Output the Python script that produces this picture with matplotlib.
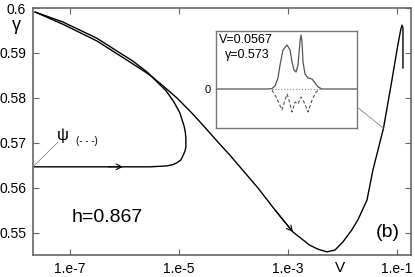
import matplotlib
matplotlib.use("Agg")
import matplotlib.pyplot as plt
from matplotlib.ticker import NullLocator
from matplotlib.patches import ConnectionPatch

plt.rcParams['font.family'] = ['Liberation Sans', 'DejaVu Sans']

# loop branch: starts at small V (psi), runs right, turns up and back to the corner
V_loop = [2.1e-8, 1.0e-7, 9.4e-7, 2.94e-6, 6.0e-6, 7.8e-6, 9.2e-6, 1.08e-5, 1.18e-5,
          1.29e-5, 1.34e-5, 1.34e-5, 1.31e-5, 1.24e-5, 1.04e-5, 8.1e-6, 5.8e-6, 3.95e-6,
          2.59e-6, 1.43e-6, 8.3e-7, 3.1e-7, 7.4e-8, 2.3e-8]
g_loop = [0.5647, 0.5647, 0.5647, 0.5647, 0.5649, 0.5652, 0.5656, 0.5662, 0.5671,
          0.5682, 0.5691, 0.5711, 0.5724, 0.5738, 0.5767, 0.5791, 0.5816, 0.5836,
          0.5858, 0.5882, 0.5900, 0.5933, 0.5969, 0.5991]

# second branch: from the corner down through the minimum and up to the turning point
V_main = [2.3e-8, 7.4e-8, 3.1e-7, 1.26e-6, 2.94e-6, 5.1e-6, 9.2e-6, 1.59e-5, 2.43e-5,
          5.2e-5, 8.6e-5, 2.82e-4, 5.8e-4, 1.24e-3, 2.5e-3, 3.55e-3, 5.2e-3, 7.3e-3,
          1.02e-2, 1.49e-2, 1.92e-2, 2.82e-2, 3.63e-2, 5.67e-2, 8.1e-2, 0.104, 0.118,
          0.124, 0.129, 0.129]
g_main = [0.5991, 0.5964, 0.5927, 0.5880, 0.5851, 0.5827, 0.5800, 0.5771, 0.5747,
          0.5702, 0.5673, 0.5600, 0.5551, 0.5502, 0.5473, 0.5464, 0.5458, 0.5462,
          0.5480, 0.5507, 0.5529, 0.5573, 0.5640, 0.5733, 0.5840, 0.5918, 0.5953,
          0.5962, 0.5956, 0.5867]

xticks = [1e-7, 1e-5, 1e-3, 1e-1]
xticklabels = ['1.e-7', '1.e-5', '1.e-3', '1.e-1']
yticks = [0.55, 0.56, 0.57, 0.58, 0.59, 0.6]
yticklabels = ['0.55', '0.56', '0.57', '0.58', '0.59', '0.6']

# inset profile at V=0.0567, gamma=0.573
x_in = [-1, -0.262, -0.206, -0.163, -0.121, -0.092, -0.05, 0.007, 0.05, 0.078, 0.106,
        0.135, 0.163, 0.191, 0.206, 0.22, 0.234, 0.262, 0.305, 0.362, 0.404, 0.447,
        0.504, 1]
re_in = [0, 0, 0.005, 0.031, 0.113, 0.247, 0.402, 0.454, 0.402, 0.278, 0.196, 0.175,
         0.247, 0.485, 0.557, 0.485, 0.278, 0.155, 0.113, 0.103, 0.062, 0.021, 0, 0]
x_im = [-0.206, -0.149, -0.064, -0.021, 0.007, 0.035, 0.078, 0.121, 0.163, 0.206,
        0.248, 0.305, 0.362, 0.418, 0.475]
im_in = [-0.01, -0.082, -0.216, -0.113, -0.052, -0.113, -0.237, -0.134, -0.155,
         -0.082, -0.134, -0.237, -0.113, -0.031, 0]

fig = plt.figure(figsize=(4.15, 2.77), dpi=100)
ax = fig.add_axes([0.0795, 0.0794, 0.9108, 0.8917])
ax.plot(V_loop, g_loop, color='k', lw=1.0)
ax.plot(V_main, g_main, color='k', lw=1.0)
ax.set_xscale('log')
ax.set_xlim(2.1e-8, 0.181)
ax.set_ylim(0.5451, 0.6)
ax.set_xticks(xticks)
ax.set_xticklabels(xticklabels)
ax.xaxis.set_minor_locator(NullLocator())
ax.set_yticks(yticks)
ax.set_yticklabels(yticklabels)
ax.tick_params(direction='in', top=True, right=True, length=4, width=0.8,
               color='#666666', labelsize=10, pad=5)
for s in ax.spines.values():
    s.set_color('#666666')
    s.set_linewidth(1.2)

# arrows showing direction along the curve
arrow = dict(arrowstyle='->', color='k', lw=0.8, mutation_scale=10, shrinkA=0, shrinkB=0)
ax.annotate('', xy=(V_loop[2], g_loop[2]), xytext=(5e-7, g_loop[2]), arrowprops=arrow)
ax.annotate('', xy=(V_main[13], g_main[13]), xytext=(V_main[12], g_main[12]), arrowprops=arrow)

# psi pointer
ax.annotate('', xy=(V_loop[0], g_loop[0]), xytext=(0.066, 0.457), textcoords='axes fraction',
            arrowprops=dict(arrowstyle='-', color='#888888', lw=0.6, shrinkA=0, shrinkB=0))
ax.text(0.080, 0.485, 'ψ', transform=ax.transAxes, fontsize=12, ha='center', va='center')
ax.text(0.113, 0.462, '(- - -)', transform=ax.transAxes, fontsize=7, ha='left', va='center')

ax.text(0.103, 0.150, 'h=0.867', transform=ax.transAxes, fontsize=14, va='center')
ax.text(0.97, 0.093, '(b)', transform=ax.transAxes, fontsize=14, ha='right', va='center')

fig.text(16 / 415, 1 - 25 / 277, 'γ', fontsize=13, ha='center', va='center')
fig.text(340 / 415, 1 - 268 / 277, 'V', fontsize=11, ha='center', va='center')

# inset
ins = fig.add_axes([0.5205, 0.5379, 0.3398, 0.3502])
ins.plot([-0.2, 0.5], [0, 0], color='#888888', lw=0.8, ls=':')
ins.plot(x_in, re_in, color='#555555', lw=0.9)
ins.plot(x_im, im_in, color='#555555', lw=0.8, ls=(0, (3, 2)))
ins.set_xlim(-1, 1)
ins.set_ylim(-0.402, 0.598)
ins.set_xticks([])
ins.set_yticks([0])
ins.set_yticklabels(['0'])
ins.tick_params(length=0, labelsize=8, pad=4)
for s in ins.spines.values():
    s.set_color('#777777')
    s.set_linewidth(1.0)
ins.text(0.02, 0.907, 'V=0.0567', transform=ins.transAxes, fontsize=9, va='center')
ins.text(0.06, 0.753, 'γ=0.573', transform=ins.transAxes, fontsize=9, va='center')

con = ConnectionPatch(xyA=(1, 0.216), coordsA=ins.transAxes, xyB=(0.0567, 0.5733),
                      coordsB=ax.transData, color='#888888', lw=0.6)
fig.add_artist(con)

fig.savefig('out.png', dpi=100)
